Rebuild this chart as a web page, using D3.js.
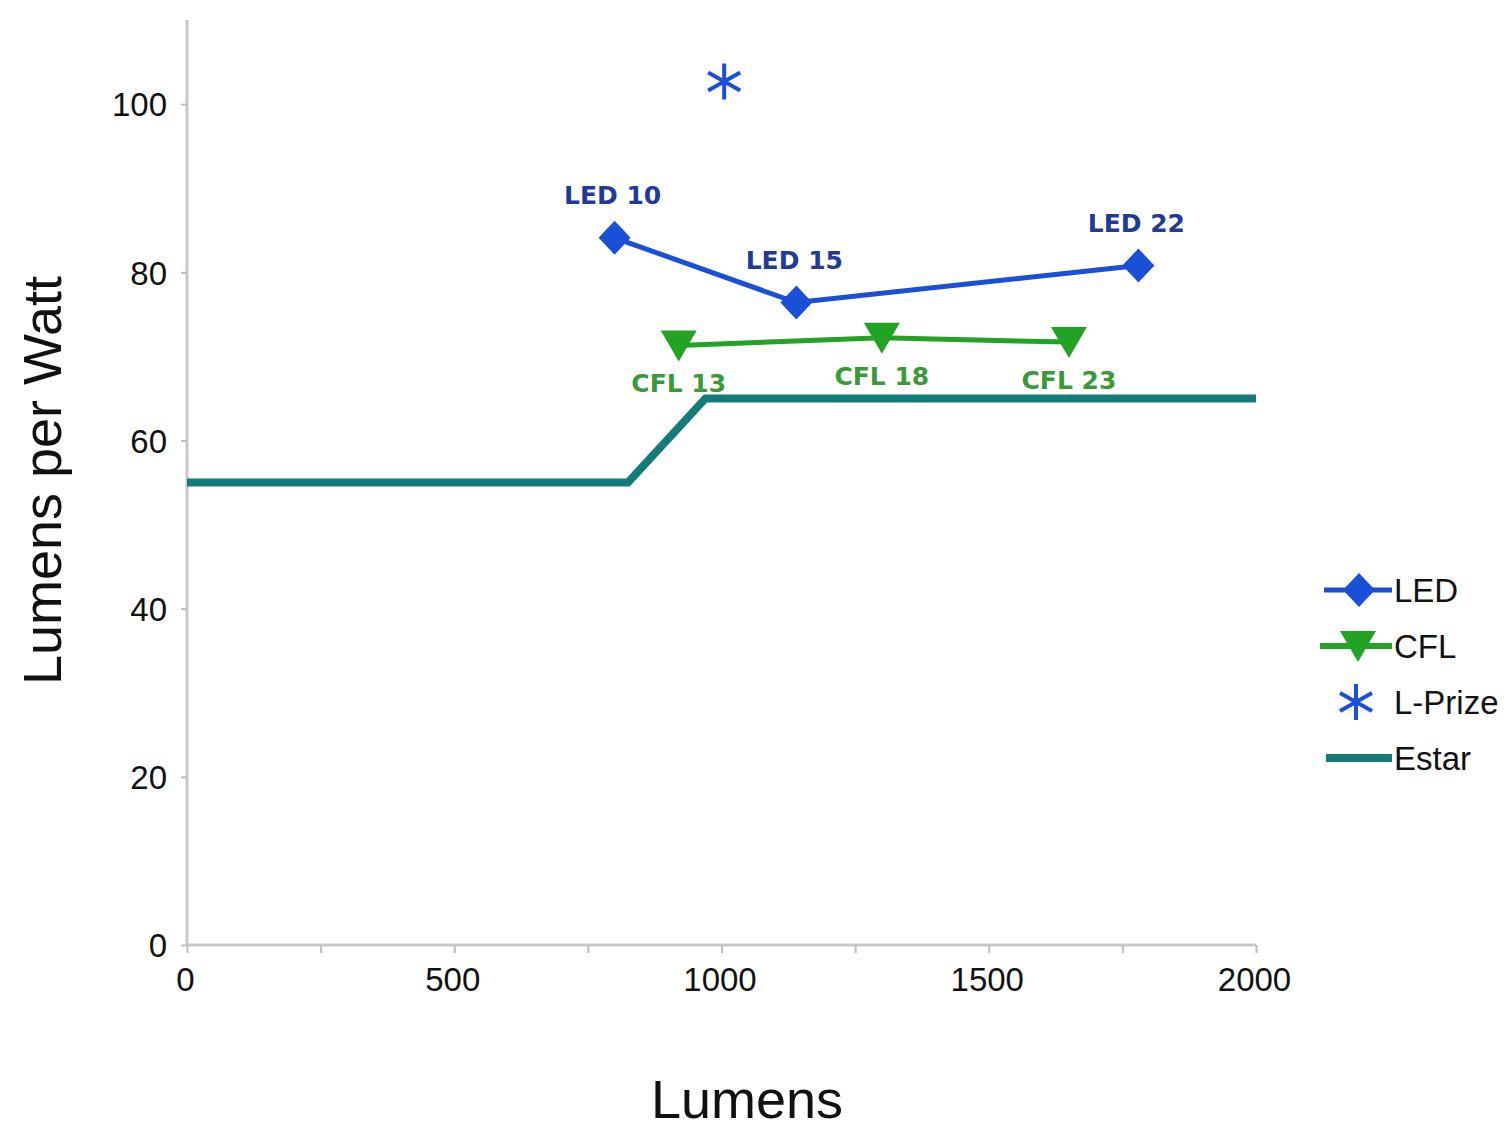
<!DOCTYPE html>
<html>
<head>
<meta charset="utf-8">
<script src="https://cdn.jsdelivr.net/npm/d3@7"></script>
<style>
  body { margin: 0; background: #fff; }
  svg { display: block; }
  .tick text { font-family: "Liberation Sans", Arial, sans-serif; font-size: 33px; fill: #111; }
  .axis-label { font-family: "Liberation Sans", Arial, sans-serif; font-size: 54px; fill: #111; }
  .pt-label { font-family: "DejaVu Sans", sans-serif; font-weight: bold; font-size: 25px; }
  .legend text { font-family: "Liberation Sans", Arial, sans-serif; font-size: 33px; fill: #111; }
</style>
</head>
<body>
<svg width="1512" height="1128"></svg>
<script>
  // lumens vs lumens-per-watt
  const ledLumens = [800, 1140, 1780];
  const ledEfficacy = [84.1, 76.4, 80.8];
  const ledNames = ['LED 10', 'LED 15', 'LED 22'];

  const cflLumens = [920, 1300, 1650];
  const cflEfficacy = [71.3, 72.2, 71.7];
  const cflNames = ['CFL 13', 'CFL 18', 'CFL 23'];

  const lprizeLumens = [1005];
  const lprizeEfficacy = [102.7];

  const estarLumens = [0, 825, 970, 2000];
  const estarEfficacy = [55, 55, 65, 65];

  const xTicks = [0, 250, 500, 750, 1000, 1250, 1500, 1750, 2000];
  const xLabels = [0, 500, 1000, 1500, 2000];
  const yTicks = [0, 20, 40, 60, 80, 100];
  const legendNames = ['LED', 'CFL', 'L-Prize', 'Estar'];

  const svg = d3.select('svg');
  const margin = {top: 20, left: 187, right: 256, bottom: 183};
  const width = +svg.attr('width');
  const height = +svg.attr('height');
  const innerWidth = width - margin.left - margin.right;   // 1069
  const innerHeight = height - margin.top - margin.bottom; // 925

  const ledColor = '#1a4fd8';
  const cflColor = '#22a324';
  const estarColor = '#137c78';

  const xScale = d3.scaleLinear().domain([0, 2000]).range([0, innerWidth]);
  const yScale = d3.scaleLinear().domain([0, 110]).range([innerHeight, 0]);

  const g = svg.append('g')
    .attr('transform', `translate(${margin.left},${margin.top})`);

  // axes
  const xAxis = d3.axisBottom(xScale)
    .tickValues(xTicks)
    .tickSize(8)
    .tickPadding(8)
    .tickFormat(d => xLabels.includes(d) ? d : '');
  const xAxisG = g.append('g')
    .attr('transform', `translate(0,${innerHeight})`)
    .call(xAxis);

  const yAxis = d3.axisLeft(yScale)
    .tickValues(yTicks)
    .tickSize(6)
    .tickPadding(14);
  const yAxisG = g.append('g').call(yAxis);

  [xAxisG, yAxisG].forEach(a => {
    a.select('.domain').attr('stroke', '#c8c8c8').attr('stroke-width', 3);
    a.selectAll('.tick line').attr('stroke', '#bdbdbd').attr('stroke-width', 2);
  });
  yAxisG.select('.domain').attr('d', `M0,${innerHeight}V0`);
  xAxisG.select('.domain').attr('d', `M0,0H${innerWidth}`);
  xAxisG.selectAll('.tick text').attr('dy', '0.9em').attr('x', -2);
  // minor ticks carry no label
  xAxisG.selectAll('.tick text').filter(d => !xLabels.includes(d)).remove();
  yAxisG.selectAll('.tick text').attr('dy', '0.36em');

  // axis titles
  g.append('text')
    .attr('class', 'axis-label')
    .attr('text-anchor', 'middle')
    .attr('x', 560)
    .attr('y', innerHeight + 173)
    .text('Lumens');

  g.append('text')
    .attr('class', 'axis-label')
    .attr('text-anchor', 'middle')
    .attr('transform', `translate(-126,${innerHeight / 2 - 2}) rotate(-90)`)
    .text('Lumens per Watt');

  const estar = estarLumens.map((x, i) => ({x, y: estarEfficacy[i]}));
  const led = ledLumens.map((x, i) => ({x, y: ledEfficacy[i], name: ledNames[i]}));
  const cfl = cflLumens.map((x, i) => ({x, y: cflEfficacy[i], name: cflNames[i]}));
  const lprize = lprizeLumens.map((x, i) => ({x, y: lprizeEfficacy[i]}));

  const lineGen = d3.line()
    .x(d => xScale(d.x))
    .y(d => yScale(d.y));

  // Estar line
  g.append('path')
    .attr('d', lineGen(estar))
    .attr('fill', 'none')
    .attr('stroke', estarColor)
    .attr('stroke-width', 8);

  // CFL
  g.append('path')
    .attr('d', lineGen(cfl))
    .attr('fill', 'none')
    .attr('stroke', cflColor)
    .attr('stroke-width', 5);

  const triPath = 'M-18,-15L18,-15L0,16Z';
  g.selectAll('.cfl-mark').data(cfl).enter().append('path')
    .attr('class', 'cfl-mark')
    .attr('d', triPath)
    .attr('fill', cflColor)
    .attr('transform', d => `translate(${xScale(d.x)},${yScale(d.y)})`);

  g.selectAll('.cfl-label').data(cfl).enter().append('text')
    .attr('class', 'pt-label')
    .attr('fill', '#3a9a3a')
    .attr('text-anchor', 'middle')
    .attr('x', d => xScale(d.x))
    .attr('y', d => yScale(d.y) + 47)
    .text(d => d.name);

  // LED
  g.append('path')
    .attr('d', lineGen(led))
    .attr('fill', 'none')
    .attr('stroke', ledColor)
    .attr('stroke-width', 5);

  const diamondPath = 'M0,-17L16,0L0,17L-16,0Z';
  g.selectAll('.led-mark').data(led).enter().append('path')
    .attr('class', 'led-mark')
    .attr('d', diamondPath)
    .attr('fill', ledColor)
    .attr('transform', d => `translate(${xScale(d.x)},${yScale(d.y)})`);

  g.selectAll('.led-label').data(led).enter().append('text')
    .attr('class', 'pt-label')
    .attr('fill', '#1f3b95')
    .attr('text-anchor', 'middle')
    .attr('x', d => xScale(d.x) - 2)
    .attr('y', d => yScale(d.y) - 34)
    .text(d => d.name);

  // L-Prize asterisk
  const starPath = 'M0,-18V18M-16,-9L16,9M-16,9L16,-9';
  g.selectAll('.lp-mark').data(lprize).enter().append('path')
    .attr('class', 'lp-mark')
    .attr('d', starPath)
    .attr('fill', 'none')
    .attr('stroke', ledColor)
    .attr('stroke-width', 4)
    .attr('transform', d => `translate(${xScale(d.x)},${yScale(d.y)})`);

  // legend
  const legend = svg.append('g')
    .attr('class', 'legend')
    .attr('transform', 'translate(1322,590)');
  const rowH = 56;

  legendNames.forEach((name, i) => {
    const row = legend.append('g').attr('transform', `translate(0,${i * rowH})`);
    if (name === 'LED') {
      row.append('line').attr('x1', 2).attr('x2', 70).attr('stroke', ledColor).attr('stroke-width', 5);
      row.append('path').attr('d', diamondPath).attr('fill', ledColor).attr('transform', 'translate(37,0)');
    } else if (name === 'CFL') {
      row.append('line').attr('x1', -2).attr('x2', 70).attr('stroke', cflColor).attr('stroke-width', 6);
      row.append('path').attr('d', triPath).attr('fill', cflColor).attr('transform', 'translate(36,0)');
    } else if (name === 'L-Prize') {
      row.append('path').attr('d', starPath).attr('fill', 'none').attr('stroke', ledColor)
        .attr('stroke-width', 4).attr('transform', 'translate(34,0)');
    } else {
      row.append('line').attr('x1', 4).attr('x2', 70).attr('stroke', estarColor).attr('stroke-width', 8);
    }
    row.append('text')
      .attr('x', 72)
      .attr('dy', '0.36em')
      .text(name);
  });
</script>
</body>
</html>
